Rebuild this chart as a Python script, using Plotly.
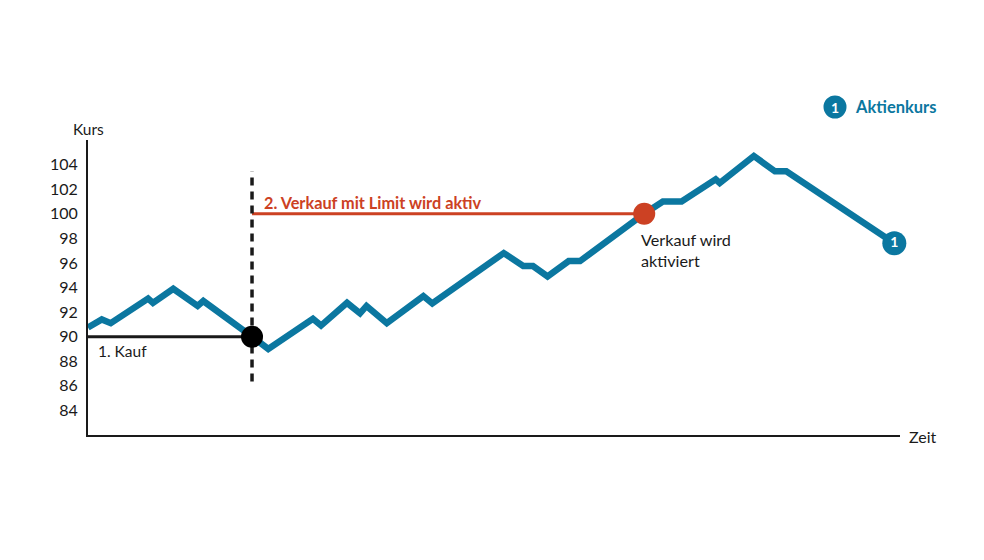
import plotly.graph_objects as go

# ---- data ----
zeit = [0, 1.7, 2.8, 7.4, 8.0, 10.5, 13.5, 14.2, 20.2, 22.2, 27.7, 28.7, 31.9, 33.5,
        34.3, 36.8, 41.3, 42.4, 51.2, 53.6, 54.8, 56.6, 59.2, 60.6, 68.5, 70.8, 73.1,
        77.3, 77.8, 82.0, 84.6, 86.0, 99.3]
kurs = [90.75, 91.4, 91.1, 93.1, 92.75, 93.9, 92.5, 92.9, 90.0, 89.0, 91.45, 90.9, 92.75,
        91.9, 92.5, 91.1, 93.3, 92.7, 96.8, 95.75, 95.75, 94.9, 96.15, 96.15, 100.0, 101.0,
        101.0, 102.8, 102.5, 104.7, 103.45, 103.45, 97.6]

kauf_zeit = 20.2
kauf_kurs = 90
limit_kurs = 100
verkauf_zeit = 68.5
vline_range = [86.35, 103.45]
y_ticks = [84, 86, 88, 90, 92, 94, 96, 98, 100, 102, 104]

BLUE = "#0B77A0"
RED = "#CC4123"
DARK = "#1a1a1a"
FONT = "Lato"

fig = go.Figure()

fig.add_trace(go.Scatter(x=[0, kauf_zeit], y=[kauf_kurs, kauf_kurs], mode="lines",
                         line=dict(color=DARK, width=3), hoverinfo="skip"))
fig.add_trace(go.Scatter(x=[kauf_zeit, verkauf_zeit], y=[limit_kurs, limit_kurs], mode="lines",
                         line=dict(color=RED, width=3), hoverinfo="skip"))
fig.add_trace(go.Scatter(x=[kauf_zeit, kauf_zeit], y=vline_range, mode="lines",
                         line=dict(color=DARK, width=3.5, dash="8px,6px"), hoverinfo="skip"))
fig.add_trace(go.Scatter(x=zeit, y=kurs, mode="lines",
                         line=dict(color=BLUE, width=6.5), hoverinfo="skip"))
fig.add_trace(go.Scatter(x=[kauf_zeit], y=[kauf_kurs], mode="markers",
                         marker=dict(color="black", size=22), hoverinfo="skip"))
fig.add_trace(go.Scatter(x=[verkauf_zeit], y=[limit_kurs], mode="markers",
                         marker=dict(color=RED, size=22), hoverinfo="skip"))
fig.add_trace(go.Scatter(x=[zeit[-1]], y=[kurs[-1]], mode="markers+text", text=["1"],
                         textposition="middle center",
                         textfont=dict(color="white", size=14, family=FONT, weight="bold"),
                         marker=dict(color=BLUE, size=24), hoverinfo="skip", cliponaxis=False))

PW, PH = 812, 295  # plot area size in px


def px(xp):
    return (xp - 88) / PW


def py(yp):
    return (435 - yp) / PH


annotations = [
    dict(x=1.0, y=88.8, xref="x", yref="y", text="1. Kauf", showarrow=False,
         xanchor="left", yanchor="middle", font=dict(size=15.5, color=DARK, family=FONT)),
    dict(x=21.4, y=100.95, xref="x", yref="y", text="<b>2. Verkauf mit Limit wird aktiv</b>",
         showarrow=False, xanchor="left", yanchor="middle",
         font=dict(size=16.3, color=RED, family=FONT)),
    dict(x=67.9, y=97.05, xref="x", yref="y", text="Verkauf wird<br>aktiviert",
         showarrow=False, xanchor="left", yanchor="middle", align="left",
         font=dict(size=16.2, color=DARK, family=FONT)),
    dict(x=px(71), y=py(129), xref="paper", yref="paper", text="Kurs",
         showarrow=False, xanchor="left", yanchor="middle",
         font=dict(size=15.5, color=DARK, family=FONT)),
    dict(x=px(907), y=py(436), xref="paper", yref="paper", text="Zeit",
         showarrow=False, xanchor="left", yanchor="middle",
         font=dict(size=16, color=DARK, family=FONT)),
    dict(x=px(853), y=py(107), xref="paper", yref="paper",
         text="<b>Aktienkurs</b>", showarrow=False, xanchor="left", yanchor="middle",
         font=dict(size=16.5, color=BLUE, family=FONT)),
    dict(x=px(835), y=py(107), xref="paper", yref="paper",
         text="<b>1</b>", showarrow=False, xanchor="center", yanchor="middle",
         font=dict(size=14, color="white", family=FONT)),
]

shapes = [
    dict(type="circle", xref="paper", yref="paper",
         xsizemode="pixel", ysizemode="pixel",
         xanchor=px(835), yanchor=py(107),
         x0=-11.5, x1=11.5, y0=-11.5, y1=11.5,
         fillcolor=BLUE, line=dict(width=0), layer="below"),
]

fig.update_layout(
    width=976, height=552,
    margin=dict(l=80, r=84, t=132, b=125),
    paper_bgcolor="white", plot_bgcolor="white",
    showlegend=False,
    font=dict(family=FONT, color=DARK),
    annotations=annotations, shapes=shapes,
    xaxis=dict(range=[0, 100], showgrid=False, zeroline=False, showticklabels=False,
               showline=True, linecolor=DARK, linewidth=2, ticks="", fixedrange=True),
    yaxis=dict(range=[82, 106], showgrid=False, zeroline=False, tickvals=y_ticks,
               showline=True, linecolor=DARK, linewidth=2, ticks="",
               tickfont=dict(size=16, color=DARK, family=FONT), ticklabelstandoff=5,
               fixedrange=True),
)

fig.write_html("out.html")
